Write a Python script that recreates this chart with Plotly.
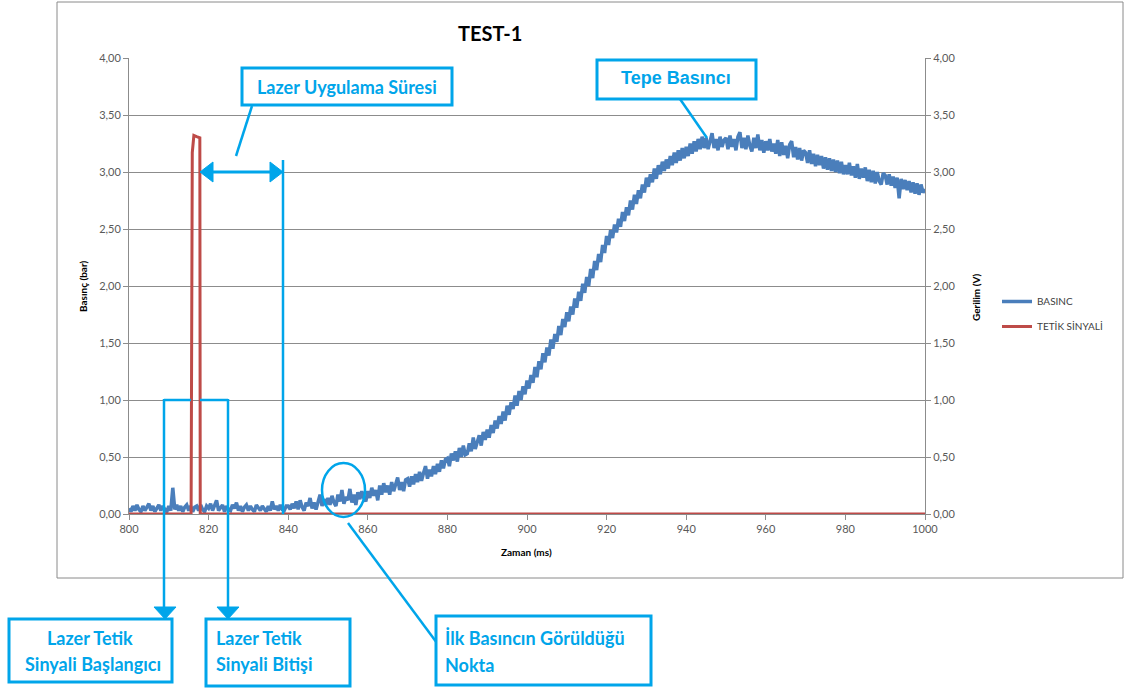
import numpy as np
import plotly.graph_objects as go

# ---------------- data ----------------
SAMPLE_START_MS = 800.0
SAMPLE_STEP_MS = 0.5

basinc_bar = [
    0.05,0.02,0.07,0.03,0.08,0.04,0.02,0.07,0.03,0.06,0.09,0.03,0.07,0.02,0.05,0.08,0.03,0.07,0.04,0.02,
    0.07,0.03,0.23,0.04,0.08,0.03,0.07,0.02,0.06,0.08,0.03,0.07,0.02,0.06,0.07,0.03,0.08,0.04,0.02,0.07,
    0.05,0.09,0.03,0.07,0.12,0.03,0.06,0.08,0.02,0.07,0.04,0.03,0.08,0.05,0.10,0.03,0.07,0.02,0.06,0.08,
    0.03,0.07,0.04,0.02,0.08,0.05,0.03,0.07,0.04,0.02,0.07,0.03,0.11,0.04,0.07,0.03,0.08,0.04,0.03,0.07,
    0.07,0.04,0.09,0.05,0.11,0.04,0.12,0.06,0.03,0.10,0.07,0.14,0.05,0.10,0.04,0.12,0.17,0.07,0.13,0.08,
    0.14,0.08,0.16,0.10,0.07,0.17,0.11,0.21,0.09,0.15,0.12,0.22,0.10,0.17,0.08,0.19,0.13,0.20,0.14,0.11,
    0.20,0.14,0.23,0.16,0.21,0.12,0.25,0.17,0.27,0.19,0.25,0.17,0.28,0.20,0.26,0.32,0.21,0.28,0.20,0.30,
    0.31,0.24,0.33,0.26,0.35,0.28,0.37,0.29,0.36,0.42,0.31,0.39,0.33,0.42,0.35,0.44,0.37,0.47,0.40,0.48,
    0.49,0.42,0.53,0.47,0.55,0.46,0.58,0.50,0.60,0.52,0.53,0.62,0.55,0.67,0.57,0.63,0.69,0.60,0.72,0.65,
    0.74,0.67,0.78,0.71,0.82,0.75,0.86,0.79,0.90,0.82,0.95,0.87,0.98,0.92,1.04,0.95,1.08,1.00,1.12,1.05,
    1.17,1.10,1.22,1.15,1.29,1.20,1.34,1.27,1.41,1.33,1.46,1.39,1.53,1.45,1.58,1.51,1.65,1.57,1.71,1.64,
    1.77,1.69,1.82,1.75,1.89,1.81,1.95,1.87,2.02,1.94,2.08,2.00,2.15,2.07,2.22,2.14,2.28,2.21,2.36,2.29,
    2.44,2.36,2.49,2.42,2.54,2.47,2.59,2.52,2.65,2.57,2.69,2.62,2.75,2.67,2.80,2.72,2.84,2.77,2.89,2.82,
    2.95,2.87,2.98,2.91,3.03,2.94,3.06,2.98,3.09,3.01,3.11,3.03,3.14,3.06,3.17,3.08,3.19,3.10,3.21,3.12,
    3.22,3.14,3.25,3.16,3.27,3.18,3.29,3.20,3.31,3.21,3.30,3.20,3.27,3.34,3.21,3.29,3.19,3.31,3.22,3.28,
    3.30,3.20,3.32,3.22,3.29,3.19,3.31,3.35,3.21,3.30,3.20,3.32,3.23,3.18,3.30,3.21,3.33,3.19,3.28,3.17,
    3.27,3.19,3.29,3.18,3.25,3.16,3.28,3.14,3.26,3.15,3.23,3.12,3.24,3.27,3.13,3.22,3.11,3.21,3.10,3.19,
    3.17,3.08,3.19,3.07,3.16,3.05,3.15,3.06,3.14,3.03,3.13,3.02,3.12,3.01,3.11,3.00,3.10,2.99,3.09,2.98,
    3.06,2.98,3.08,2.97,3.05,2.95,3.07,2.94,3.03,2.95,3.04,2.92,3.02,2.91,3.01,2.90,3.00,2.92,2.89,2.99,
    2.97,2.89,2.98,2.88,2.96,2.86,2.95,2.77,2.94,2.85,2.93,2.84,2.92,2.82,2.91,2.81,2.90,2.80,2.89,2.82,
    2.85,
]
basinc_time_ms = SAMPLE_START_MS + SAMPLE_STEP_MS * np.arange(len(basinc_bar))

tetik_time_ms = [800, 815.6, 815.9, 816.3, 817.0, 817.8, 817.9, 1000]
tetik_volt = [0.0, 0.0, 3.17, 3.32, 3.31, 3.30, 0.0, 0.0]

x_ticks = [800, 820, 840, 860, 880, 900, 920, 940, 960, 980, 1000]
y_ticks = [0, 0.5, 1.0, 1.5, 2.0, 2.5, 3.0, 3.5, 4.0]

# ---------------- styling ----------------
W, H = 1125, 691
PL, PR, PT, PB = 129, 925, 58, 514   # plot area in pixels
CYAN = "#00A5EA"
BLUE = "#4A7EBB"
RED = "#BE4B48"
GRID = "#8C8C8C"
TICKC = "#595959"
FONT = "Lato"


def fx(p):
    return (p - PL) / (PR - PL)


def fy(p):
    return (PB - p) / (PB - PT)


fig = go.Figure()
fig.add_trace(go.Scatter(x=basinc_time_ms, y=basinc_bar, mode="lines", name="BASINC",
                         line=dict(color=BLUE, width=3.5), legendgroup="a"))
fig.add_trace(go.Scatter(x=tetik_time_ms, y=tetik_volt, mode="lines", name="TETİK SİNYALİ",
                         line=dict(color=RED, width=3), yaxis="y2", legendgroup="b"))

shapes = []
anns = []


def line(x0, y0, x1, y1, w=2.5, color=CYAN):
    shapes.append(dict(type="line", xref="paper", yref="paper", x0=fx(x0), y0=fy(y0),
                       x1=fx(x1), y1=fy(y1), line=dict(color=color, width=w)))


def rect(x0, y0, x1, y1, w=3, color=CYAN, fill="white"):
    shapes.append(dict(type="rect", xref="paper", yref="paper", x0=fx(x0), y0=fy(y0),
                       x1=fx(x1), y1=fy(y1), line=dict(color=color, width=w), fillcolor=fill))


def tri(pts):
    d = "M " + " L ".join(f"{fx(a):.5f},{fy(b):.5f}" for a, b in pts) + " Z"
    shapes.append(dict(type="path", xref="paper", yref="paper", path=d,
                       fillcolor=CYAN, line=dict(color=CYAN, width=1)))


def text(x, y, s, size=18, color=CYAN, anchor="center", family=FONT, bold=True, angle=0):
    anns.append(dict(xref="paper", yref="paper", x=fx(x), y=fy(y), text=(f"<b>{s}</b>" if bold else s),
                     showarrow=False, xanchor=anchor, yanchor="middle", textangle=angle,
                     font=dict(family=family, size=size, color=color)))


# outer chart frame
rect(57, 2, 1123, 578, w=1, color="#8A8A8A", fill="rgba(0,0,0,0)")

# Lazer Uygulama Süresi
rect(242, 68, 452, 105)
text(347, 87, "Lazer Uygulama Süresi", size=18)
line(252, 106, 236, 156, w=2.5)
line(208, 172, 276, 172, w=3)
tri([(200, 172), (213, 162), (213, 182)])
tri([(283, 172), (270, 162), (270, 182)])
line(283, 160, 283, 514, w=2.5)

# trigger start / end brackets
line(164, 400, 191, 400, w=2.5)
line(164, 399, 164, 608, w=2.5)
tri([(154, 607), (176, 607), (165, 619)])
line(200, 400, 228, 400, w=2.5)
line(228, 399, 228, 608, w=2.5)
tri([(217, 607), (239, 607), (228, 619)])

rect(9, 619, 172, 682)
text(90, 638, "Lazer Tetik", size=18)
text(93, 664, "Sinyali Başlangıcı", size=18)
rect(206, 619, 350, 686)
text(214, 638, "Lazer Tetik", size=18, anchor="left")
text(214, 664, "Sinyali Bitişi", size=18, anchor="left")

# first pressure point
shapes.append(dict(type="circle", xref="paper", yref="paper", x0=fx(322), x1=fx(365),
                   y0=fy(517), y1=fy(463), line=dict(color=CYAN, width=2.5)))
line(348, 523, 437, 643, w=2.5)
rect(436, 616, 651, 685)
text(443, 638, "İlk Basıncın Görüldüğü", size=18, anchor="left")
text(443, 665, "Nokta", size=18, anchor="left")

# peak pressure
rect(597, 60, 756, 99)
text(676, 78, "Tepe Basıncı", size=18, family="Liberation Sans")
line(680, 99, 707, 138, w=2.5)

# title and axis titles
text(490, 33, "TEST-1", size=20, color="#000000")
text(83, 287, "Basınç (bar)", size=10, color="#000000", angle=-90)
text(976, 297, "Gerilim (V)", size=10, color="#000000", angle=-90)
text(526, 552, "Zaman (ms)", size=10, color="#000000")

axis_common = dict(showline=True, linecolor=GRID, linewidth=1, ticks="outside", ticklen=5,
                   tickcolor=GRID, tickfont=dict(family=FONT, size=11, color=TICKC), zeroline=False)

fig.update_layout(
    width=W, height=H,
    margin=dict(l=PL, r=W - PR, t=PT, b=H - PB, autoexpand=False),
    paper_bgcolor="white", plot_bgcolor="white",
    separators=",.",
    showlegend=True,
    legend=dict(x=fx(997), y=fy(287), xanchor="left", yanchor="top", bgcolor="rgba(0,0,0,0)",
                font=dict(family=FONT, size=10, color="#404040"), itemwidth=30,
                tracegroupgap=6, traceorder="grouped"),
    xaxis=dict(range=[800, 1000], tickvals=x_ticks, showgrid=False, **axis_common),
    yaxis=dict(range=[0, 4], tickvals=y_ticks, tickformat=".2f", showgrid=True, gridcolor=GRID,
               gridwidth=1, **axis_common),
    yaxis2=dict(range=[0, 4], tickvals=y_ticks, tickformat=".2f", overlaying="y", side="right",
                showgrid=False, **axis_common),
    shapes=shapes,
    annotations=anns,
)

fig.write_html("out.html")
